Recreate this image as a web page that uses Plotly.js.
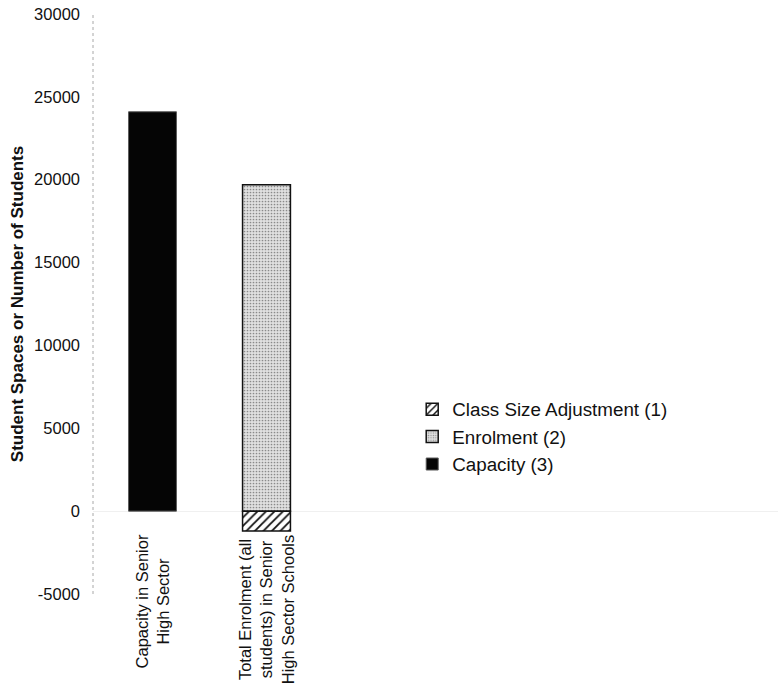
<!DOCTYPE html>
<html>
<head>
<meta charset="utf-8">
<script src="https://cdn.plot.ly/plotly-3.0.1.min.js"></script>
<style>
  html, body { margin: 0; padding: 0; background: #fff; }
  #chart { width: 783px; height: 687px; }
</style>
</head>
<body>
<div id="chart"></div>
<script>
// Senior high sector: capacity versus enrolment
const categoryPositions = [0, 1];
const categoryLabels = [
  'Capacity in Senior<br>High Sector',
  'Total Enrolment (all<br>students) in Senior<br>High Sector Schools'
];
const capacityValues = [24100, null];
const enrolmentValues = [null, 19700];
const adjustmentValues = [null, -1200];
const yTickValues = [-5000, 0, 5000, 10000, 15000, 20000, 25000, 30000];

const FONT = 'Liberation Sans, Arial, sans-serif';
const LABEL_SIZE = 16.5;
const MARGIN = { l: 93, r: 5, t: 14, b: 93 };
const PLOT_H = 687 - MARGIN.t - MARGIN.b;
const LABEL_GAP = 59; // distance from the bottom of the plot area up to the top of the rotated labels

const traces = [
  {
    type: 'bar',
    name: 'Capacity (3)',
    x: categoryPositions,
    y: capacityValues,
    width: 0.42,
    marker: { color: '#050505', line: { color: '#5a5a5a', width: 1 } },
    hoverinfo: 'skip'
  },
  {
    type: 'bar',
    name: 'Enrolment (2)',
    x: categoryPositions,
    y: enrolmentValues,
    width: 0.42,
    marker: {
      color: '#d6d6d6',
      line: { color: '#111', width: 1.5 },
      pattern: { shape: '.', fgcolor: '#8a8a8a', bgcolor: '#e0e0e0', size: 3, solidity: 0.25 }
    },
    hoverinfo: 'skip'
  },
  {
    type: 'bar',
    name: 'Class Size Adjustment (1)',
    x: categoryPositions,
    y: adjustmentValues,
    width: 0.42,
    marker: {
      color: '#ffffff',
      line: { color: '#111', width: 1.5 },
      pattern: { shape: '/', fgcolor: '#111', bgcolor: '#ffffff', size: 6, solidity: 0.3 }
    },
    hoverinfo: 'skip'
  }
];

// width of the longest line of a label, used to top-align the rotated labels
const ctx = document.createElement('canvas').getContext('2d');
ctx.font = LABEL_SIZE + 'px "Liberation Sans", Arial, sans-serif';
function longestLine(text) {
  return Math.max(...text.split('<br>').map(s => ctx.measureText(s).width));
}

// category labels, centred line by line beneath each bar
const annotations = categoryPositions.map((pos, i) => {
  const w = longestLine(categoryLabels[i]);
  return {
    x: pos,
    xref: 'x',
    y: (LABEL_GAP - w / 2) / PLOT_H,
    yref: 'paper',
    text: categoryLabels[i],
    showarrow: false,
    textangle: -90,
    xanchor: 'center',
    yanchor: 'middle',
    align: 'center',
    font: { family: FONT, size: LABEL_SIZE, color: '#111' }
  };
});

const layout = {
  width: 783,
  height: 687,
  margin: MARGIN,
  paper_bgcolor: '#ffffff',
  plot_bgcolor: '#ffffff',
  barmode: 'relative',
  showlegend: true,
  legend: {
    x: 0.466,
    y: 0.351,
    xanchor: 'left',
    yanchor: 'top',
    traceorder: 'reversed',
    font: { family: FONT, size: 18.8, color: '#111' },
    bgcolor: 'rgba(0,0,0,0)',
    tracegroupgap: 0
  },
  xaxis: {
    range: [-0.522, 5.487],
    showticklabels: false,
    ticks: '',
    showgrid: false,
    zeroline: false,
    showline: false,
    fixedrange: true
  },
  yaxis: {
    range: [-5000, 30000],
    tickvals: yTickValues,
    ticktext: yTickValues.map(String),
    tickfont: { family: FONT, size: 16.5, color: '#111' },
    ticks: '',
    ticklabelstandoff: 12,
    showgrid: false,
    zeroline: true,
    zerolinecolor: '#f0f0f0',
    zerolinewidth: 1,
    showline: false,
    title: {
      text: '<b>Student Spaces or Number of Students</b>',
      font: { family: FONT, size: 17, color: '#111' },
      standoff: 6
    },
    fixedrange: true
  },
  shapes: [
    // dotted value axis line
    {
      type: 'line', xref: 'paper', yref: 'paper',
      x0: 0, x1: 0, y0: 0, y1: 1,
      line: { color: '#a8a8a8', width: 1, dash: 'dot' }
    }
  ],
  annotations: annotations
};

Plotly.newPlot('chart', traces, layout, { staticPlot: true, displayModeBar: false });
</script>
</body>
</html>
